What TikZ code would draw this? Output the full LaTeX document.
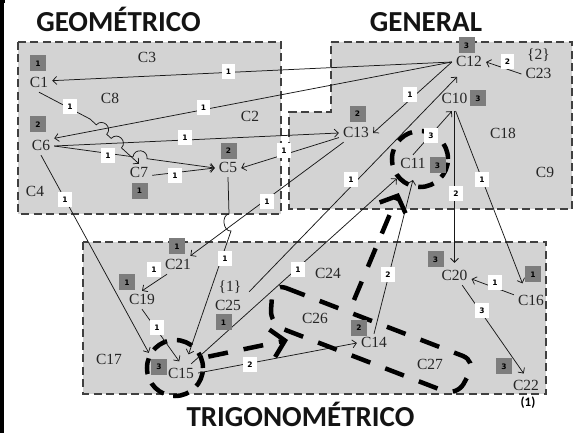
\documentclass[tikz,border=0pt]{standalone}
\usepackage{fontspec}
\setmainfont{Liberation Serif}
\newfontfamily\headfont{Carlito}
\newfontfamily\numfont{DejaVu Sans}
\usetikzlibrary{arrows.meta}
\definecolor{regionfill}{HTML}{D3D3D3}
\definecolor{regionline}{HTML}{404040}
\definecolor{badgefill}{HTML}{7D7D7D}
\begin{document}
\begin{tikzpicture}[x=1pt,y=-1pt,
  region/.style={fill=regionfill, draw=regionline, line width=2.4pt, dash pattern=on 8pt off 4.5pt},
  concept/.style={inner sep=4pt, text height=10pt, text depth=0pt, font=\fontsize{15.5}{16}\selectfont, text=black!85},
  heading/.style={font=\headfont\bfseries\fontsize{29}{30}\selectfont, anchor=base, inner sep=0pt, text=black!92},
  badge/.style={fill=badgefill, minimum width=16pt, minimum height=16pt, inner sep=0pt, font=\numfont\bfseries\fontsize{7.5}{8}\selectfont},
  weight/.style={fill=white, minimum width=13.5pt, minimum height=15pt, inner sep=0pt, font=\numfont\bfseries\fontsize{7.5}{8}\selectfont},
  link/.style={line width=0.75pt, draw=black!90, -{Straight Barb[length=4pt,width=8pt]}},
  ring/.style={circle, draw=black, line width=4.5pt, dash pattern=on 16pt off 10pt, minimum size=56pt, inner sep=0pt},
  bigdash/.style={draw=black, line width=4.5pt, dash pattern=on 20pt off 16pt},
  bigarrow/.style={bigdash, -{Straight Barb[length=13pt,width=28pt]}},
]
\useasboundingbox (0,0) rectangle (574,433);
\fill[white] (0,0) rectangle (574,433);
\fill[black] (0,0) rectangle (3.5,433);
\fill[black] (0,0) rectangle (5,3);

% the three regions
\path[region] (18,42) rectangle (281,214);
\path[region] (331,42) -- (572,42) -- (572,209) -- (289,209) -- (289,112) -- (331,112) -- cycle;
\path[region] (83,242) rectangle (546,394);

% region headings
\node[heading] (hGeo) at (118.5,32) {GEOMÉTRICO};
\node[heading] (hGen) at (426,32) {GENERAL};
\node[heading] (hTri) at (300.5,427) {TRIGONOMÉTRICO};

% concepts
\node[concept] (C1) at (39,83) {C1};
\node[concept] (C3) at (147,58) {C3};
\node[concept] (C8) at (110,99) {C8};
\node[concept] (C6) at (41,146) {C6};
\node[concept] (C2) at (250,117) {C2};
\node[concept] (C5) at (228,168) {C5};
\node[concept] (C7) at (139,173) {C7};
\node[concept] (C4) at (35,192) {C4};
\node[concept] (C12) at (469,62) {C12};
\node[concept] (set2) at (538.5,55) {\{2\}};
\node[concept] (C23) at (538.5,74) {C23};
\node[concept] (C10) at (454.5,99) {C10};
\node[concept] (C13) at (356,133) {C13};
\node[concept] (C18) at (503,134) {C18};
\node[concept] (C11) at (413,164) {C11};
\node[concept] (C9) at (545,173) {C9};
\node[concept] (C21) at (178,265) {C21};
\node[concept] (C19) at (142,300) {C19};
\node[concept] (set1) at (230,287) {\{1\}};
\node[concept] (C25) at (228,306) {C25};
\node[concept] (C17) at (109,360) {C17};
\node[concept] (C15) at (181,373) {C15};
\node[concept] (C24) at (328,274) {C24};
\node[concept] (C20) at (454.5,276) {C20};
\node[concept] (C16) at (531,301) {C16};
\node[concept] (C26) at (315,319) {C26};
\node[concept] (C14) at (374,343) {C14};
\node[concept] (C27) at (430,365) {C27};
\node[concept] (C22) at (526,386) {C22};
\node[font=\headfont\bfseries\fontsize{13}{13}\selectfont, inner sep=0pt] (note1) at (528,403) {(1)};

% highlighted concepts
\node[ring] (C15ring) at (175,368) {};
\node[ring] (C11ring) at (420,159) {};

% links inside GEOMÉTRICO
\draw[link] (C12.west) -- (C1.10);
\draw[link] (C12.west) -- (C6.30);
\draw[link] (C6.east) -- (C13.west);
\draw[link] (C13.195) -- (C5.east);
\draw[link] (C1.south) -- (90,119) -- (96.3,124.8)
  .. controls (102.6,117.9) and (113.0,127.5) .. (106.7,134.3) -- (111.2,138.4)
  .. controls (117.5,131.6) and (127.8,141.1) .. (121.5,147.9) -- (C7.north);
\draw[link] (C6.east) -- (133,156.8) .. controls (134.3,147.6) and (148.3,149.5) .. (147,158.7) -- (C5.west);
\draw[link] (C7.-10) -- (C5.west);
\draw[link] (C6.south) -- (C15ring.150);
\draw[link, shorten >=10pt] (C5.south) -- (229,214) .. controls (221.1,214.9) and (223.1,231.9) .. (231,231) -- (C15.65);

% links inside GENERAL
\draw[link] (C12.west) -- (C13.east);
\draw[link] (C23.west) -- (C12.east);
\draw[link, shorten >=4pt] (C11.north) -- (C10.south);
\draw[link, shorten <=3pt, shorten >=4pt] (C10.south) -- (C20.north);
\draw[link, shorten <=3pt, shorten >=9pt] (C10.south) -- (C16.120);

% links between regions
\draw[link, shorten >=8pt] ([xshift=4pt,yshift=5pt]C25.north east) -- (C12.235);
\draw[link] (C13) -- (C21);
\draw[link, shorten >=8pt] (C15) -- (C11);
\draw[link, shorten >=7pt] (C14.north) -- (C11.-80);

% links inside TRIGONOMÉTRICO
\draw[link] (C21.220) -- (C19.north);
\draw[link, shorten >=3pt] (C19.south) -- (C15.north);
\draw[link] (C15.east) -- (C14.west);
\draw[link] (C16.160) -- (C20.-10);
\draw[link, shorten >=4pt] (C20.-50) -- (C22.north);

% grouped concepts and the path towards C11
\draw[bigdash, rounded corners=14pt] (273,283) -- (476,361) -- (457,396) -- (270,324) -- cycle;
\coordinate (groupIn) at (288,340);
\coordinate (groupOut) at (354,300);
\draw[bigarrow, shorten <=5pt] (C15ring.20) -- (groupIn);
\draw[bigarrow, shorten >=10pt] (groupOut) -- (C11ring.-125);

% link weights
\node[weight] (w1) at (228.5,71.5) {1};
\node[weight] (w2) at (203.5,108) {1};
\node[weight] (w3) at (185,138) {1};
\node[weight] (w4) at (108,156) {1};
\node[weight] (w5) at (70,107) {1};
\node[weight] (w6) at (175,176) {1};
\node[weight] (w7) at (65,200) {1};
\node[weight] (w8) at (284,151) {1};
\node[weight] (w9) at (267,202) {1};
\node[weight] (w10) at (410,95) {1};
\node[weight] (w11) at (351,180) {1};
\node[weight] (w12) at (431,136) {3};
\node[weight] (w13) at (456,194) {2};
\node[weight] (w14) at (482,180) {1};
\node[weight] (w15) at (507.5,62) {2};
\node[weight] (w16) at (225,259) {1};
\node[weight] (w17) at (154,270) {1};
\node[weight] (w18) at (157,328) {1};
\node[weight] (w19) at (298,270) {1};
\node[weight] (w20) at (250,365) {2};
\node[weight] (w21) at (388,275) {2};
\node[weight] (w22) at (495,283) {1};
\node[weight] (w23) at (482,311) {3};

% concept levels
\node[badge] (b1) at (38,63.5) {1};
\node[badge] (b6) at (38,124.5) {2};
\node[badge] (b5) at (228.5,151) {2};
\node[badge] (b7) at (139.5,191) {1};
\node[badge] (b12) at (466.5,45.5) {3};
\node[badge] (b10) at (478,98.5) {3};
\node[badge] (b13) at (357.5,114) {2};
\node[badge] (b11) at (437.5,165.5) {3};
\node[badge] (b21) at (177,246.5) {1};
\node[badge] (b19) at (127,282.5) {1};
\node[badge] (b25) at (223.5,322.5) {1};
\node[badge] (b15) at (159,367) {3};
\node[badge] (b20) at (435.5,259.5) {3};
\node[badge] (b16) at (533,274.5) {1};
\node[badge] (b14) at (359,328) {2};
\node[badge] (b22) at (504,366.5) {3};
\end{tikzpicture}
\end{document}
